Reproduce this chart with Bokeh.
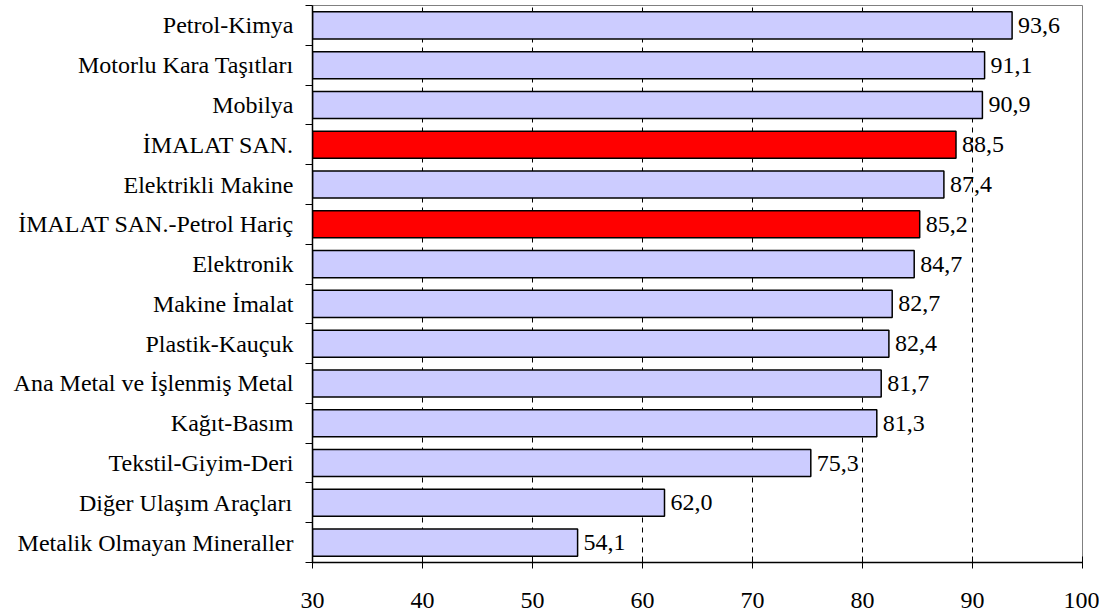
from bokeh.plotting import figure
from bokeh.models import ColumnDataSource, FixedTicker
from bokeh.core.properties import value
from bokeh.embed import file_html
from bokeh.resources import INLINE

categories = [
    "Petrol-Kimya",
    "Motorlu Kara Taşıtları",
    "Mobilya",
    "İMALAT SAN.",
    "Elektrikli Makine",
    "İMALAT SAN.-Petrol Hariç",
    "Elektronik",
    "Makine İmalat",
    "Plastik-Kauçuk",
    "Ana Metal ve İşlenmiş Metal",
    "Kağıt-Basım",
    "Tekstil-Giyim-Deri",
    "Diğer Ulaşım Araçları",
    "Metalik Olmayan Mineraller",
]
values = [93.6, 91.1, 90.9, 88.5, 87.4, 85.2, 84.7, 82.7, 82.4, 81.7, 81.3, 75.3, 62.0, 54.1]
highlight = ["İMALAT SAN.", "İMALAT SAN.-Petrol Hariç"]
x_ticks = [30, 40, 50, 60, 70, 80, 90, 100]

n = len(categories)
ypos = [n - 1 - i for i in range(n)]
colors = ["#FF0000" if c in highlight else "#CCCCFF" for c in categories]
labels = [f"{v:.1f}".replace(".", ",") for v in values]

src = ColumnDataSource(dict(y=ypos, v=values, color=colors, label=labels,
                            left=[x_ticks[0]] * n))

FONT = "Liberation Serif"

p = figure(width=1099, height=615, output_backend="svg", toolbar_location=None,
           x_range=(30, 100), y_range=(-0.5, n - 0.5),
           min_border_left=312, min_border_right=17, min_border_top=5,
           min_border_bottom=53)
p.outline_line_color = "#808080"
p.outline_line_width = 1

p.hbar(y="y", left="left", right="v", height=0.68, fill_color="color",
       line_color="black", line_width=1.5, source=src)
p.text(x="v", y="y", text="label", source=src, x_offset=6,
       text_baseline="middle", text_align="left",
       text_font=value(FONT), text_font_size="24px", text_color="black")

# x axis
p.xaxis.ticker = FixedTicker(ticks=x_ticks)
p.xaxis.major_tick_in = 6
p.xaxis.major_tick_out = 6
p.xaxis.minor_tick_line_color = None
p.xaxis.axis_line_color = "black"
p.xaxis.axis_line_width = 1.5
p.xaxis.major_tick_line_color = "black"
p.xaxis.major_label_text_font = FONT
p.xaxis.major_label_text_font_size = "24px"
p.xaxis.major_label_text_color = "black"
p.xaxis.major_label_standoff = 24

# y axis: labels at centres, tick marks at boundaries
bounds = [i - 0.5 for i in range(n + 1)]
p.yaxis.ticker = FixedTicker(ticks=ypos, minor_ticks=bounds)
p.yaxis.major_label_overrides = {y: c for y, c in zip(ypos, categories)}
p.yaxis.major_tick_out = 0
p.yaxis.major_tick_in = 0
p.yaxis.minor_tick_out = 7
p.yaxis.minor_tick_in = 0
p.yaxis.minor_tick_line_color = "black"
p.yaxis.axis_line_color = "black"
p.yaxis.axis_line_width = 1.5
p.yaxis.major_label_text_font = FONT
p.yaxis.major_label_text_font_size = "24px"
p.yaxis.major_label_text_color = "black"
p.yaxis.major_label_standoff = 12

# grid
p.ygrid.grid_line_color = None
p.xgrid.ticker = FixedTicker(ticks=x_ticks[1:-1])
p.xgrid.grid_line_color = "black"
p.xgrid.grid_line_width = 1
p.xgrid.grid_line_dash = "5 5"

open("out.html", "w").write(file_html(p, INLINE))
